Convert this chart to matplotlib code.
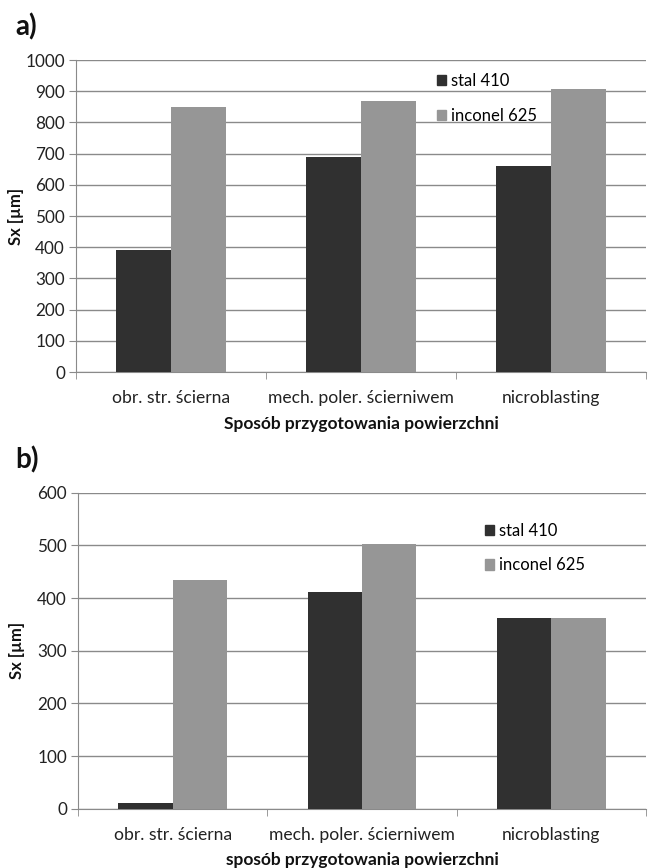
import matplotlib
matplotlib.use("Agg")
import matplotlib.pyplot as plt
import numpy as np
from matplotlib.patches import Patch

plt.rcParams['font.family'] = ['Lato', 'DejaVu Sans']

categories = ["obr. str. ścierna", "mech. poler. ścierniwem", "nicroblasting"]
series_names = ["stal 410", "inconel 625"]
a_stal = [390, 688, 660]
a_inconel = [849, 869, 906]
b_stal = [10, 411, 362]
b_inconel = [435, 503, 362]
a_ticks = [0, 100, 200, 300, 400, 500, 600, 700, 800, 900, 1000]
b_ticks = [0, 100, 200, 300, 400, 500, 600]

DARK = "#303030"
LIGHT = "#969696"
GRID = "#8a8a8a"
FS = 12.3

fig = plt.figure(figsize=(6.48, 8.68), dpi=100)

def panel(rect, stal, inconel, ticks, xlabel, letter, letter_xy, leg_anchor, ylabel_x):
    ax = fig.add_axes(rect)
    x = np.arange(len(categories))
    w = 0.287
    ax.bar(x - w / 2, stal, w, color=DARK, zorder=3)
    ax.bar(x + w / 2, inconel, w, color=LIGHT, zorder=3)
    ax.set_xlim(-0.5, len(categories) - 0.5)
    ax.set_ylim(ticks[0], ticks[-1])
    ax.set_yticks(ticks)
    ax.yaxis.grid(True, color=GRID, lw=1.0, zorder=0)
    ax.set_xticks(x)
    ax.set_xticklabels(categories, fontsize=12.6, color="#222222")
    ax.set_xticks(np.arange(-0.5, len(categories), 1.0), minor=True)
    ax.tick_params(axis='x', which='major', length=0, pad=13)
    ax.tick_params(axis='x', which='minor', length=5, color=GRID, direction='out')
    ax.tick_params(axis='y', length=5, color=GRID, labelsize=FS, labelcolor="#222222", pad=3)
    for s in ['top', 'right']:
        ax.spines[s].set_visible(False)
    for s in ['left', 'bottom']:
        ax.spines[s].set_color(GRID)
    ax.set_xlabel(xlabel, fontsize=12.5, fontweight='bold', labelpad=7, color="#111111")
    ax.set_ylabel("Sx [µm]", fontsize=12, fontweight='bold', color="#111111")
    ax.yaxis.set_label_coords(ylabel_x, 0.5)
    handles = [Patch(color=DARK), Patch(color=LIGHT)]
    ax.legend(handles, series_names, loc='upper left', bbox_to_anchor=leg_anchor,
              frameon=False, fontsize=12, handlelength=0.55, handleheight=0.55,
              handletextpad=0.3, labelspacing=1.1, borderaxespad=0)
    fig.text(letter_xy[0], letter_xy[1], letter, fontsize=20, fontweight='bold',
             ha='left', va='center', color="#111111")
    return ax

panel([0.1173, 0.5714, 0.8796, 0.3594], a_stal, a_inconel, a_ticks,
      "Sposób przygotowania powierzchni", "a)", (0.024, 1 - 27 / 868),
      (0.6215, 0.979), -0.091)
panel([0.1204, 0.0683, 0.8765, 0.3641], b_stal, b_inconel, b_ticks,
      "sposób przygotowania powierzchni", "b)", (0.024, 1 - 460 / 868),
      (0.705, 0.925), -0.093)

fig.savefig("out.png", dpi=100)
